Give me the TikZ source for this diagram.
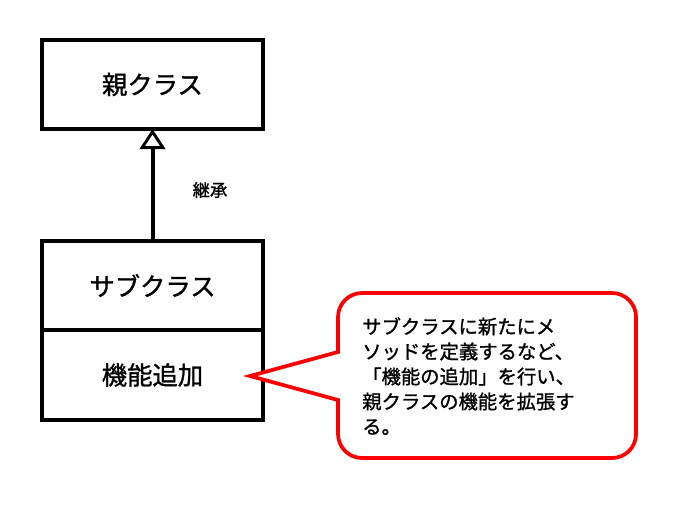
\documentclass[tikz,border=0pt]{standalone}
\usepackage{fontspec}
\newfontfamily\cjk[FakeBold=1.2]{Noto Sans CJK JP}
\usetikzlibrary{arrows.meta}
\tikzset{
  boxline/.style={draw=black,line width=3pt,outer sep=0pt},
  big/.style={font=\cjk\fontsize{19}{22}\selectfont},
}
\begin{document}
\begin{tikzpicture}[x=0.75pt,y=-0.75pt]
\useasboundingbox (0,0) rectangle (692,504);
% parent
\node[boxline,minimum width=221*0.75pt,minimum height=89*0.75pt,big] (parent) at (152.5,84.5) {親クラス};
% sub
\node[boxline,minimum width=221*0.75pt,minimum height=89*0.75pt,big] (sub) at (152.5,285.5) {サブクラス};
\node[boxline,minimum width=221*0.75pt,minimum height=90*0.75pt,big,anchor=north] (func) at (sub.south) {機能追加};
% inheritance
\draw[line width=3pt,-{Triangle[open,length=15pt,width=19pt,line width=2.2pt]}] (sub.north) -- (parent.south);
\node[font=\cjk\fontsize{13}{15}\selectfont] (lbl) at (210,190) {継承};
% callout
\coordinate (tip) at (250,376);
\draw[red,line width=2.8pt,fill=white,line join=miter]
  (338,352) -- (tip) -- (338,400) [rounded corners=18pt]-- (338,458) -- (636,458) -- (636,293) -- (338,293) [sharp corners]-- cycle;
\node[anchor=north west,align=left,inner sep=0pt,font=\cjk\fontsize{14.5}{18.75}\selectfont] (note) at (362,317)
{サブクラスに新たにメ\\ソッドを定義するなど、\\「機能の追加」を行い、\\親クラスの機能を拡張す\\る。};
\end{tikzpicture}
\end{document}
